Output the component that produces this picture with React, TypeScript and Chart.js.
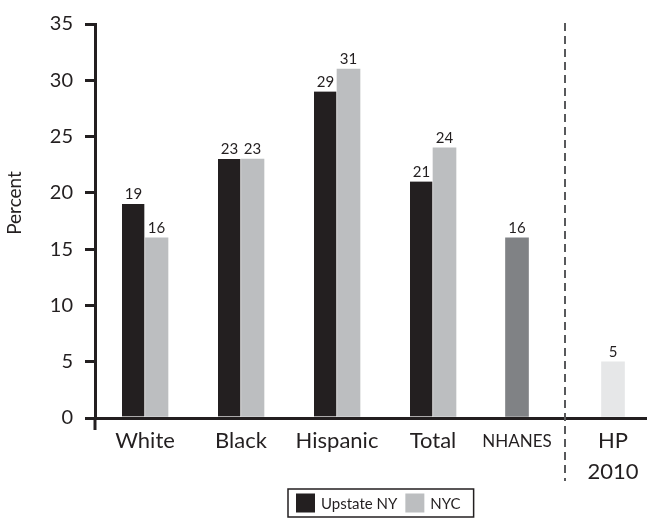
import React, { useEffect, useRef } from "react";
import { Chart, registerables } from "chart.js";

Chart.register(...registerables);

// Categories along the x axis ("HP 2010" wraps onto two lines)
const categories = ["White", "Black", "Hispanic", "Total", "NHANES", "HP 2010"];

// Percent values per group
const upstateNY: (number | null)[] = [19, 23, 29, 21, null, null];
const nyc: (number | null)[] = [16, 23, 31, 24, null, null];
const reference: (number | null)[] = [null, null, null, null, 16, 5];

const seriesLabels = ["Upstate NY", "NYC"];
const yTickValues = [0, 5, 10, 15, 20, 25, 30, 35];

// Layout: slot centre of each category on the x axis (NHANES sits a bit closer to Total)
const SLOT_X = [0, 8, 16, 24, 31, 39];
const X_MIN = -50 / 12;
const X_MAX = X_MIN + 46;
const DIVIDER_X = (SLOT_X[4] + SLOT_X[5]) / 2;

const FONT = "Lato, 'Open Sans', sans-serif";
const INK = "#231f20";
const NYC_GREY = "#bcbec0";
const NHANES_GREY = "#808285";
const HP_GREY = "#e6e7e8";

const toPoints = (vals: (number | null)[]) =>
  vals.map((v, i) => ({ x: SLOT_X[i], y: v }));

const decorPlugin = {
  id: "decor",
  afterDatasetsDraw(chart: any) {
    const ctx: CanvasRenderingContext2D = chart.ctx;
    ctx.save();
    ctx.font = `15px ${FONT}`;
    ctx.fillStyle = INK;
    ctx.textAlign = "center";
    ctx.textBaseline = "bottom";
    chart.data.datasets.forEach((ds: any, di: number) => {
      const meta = chart.getDatasetMeta(di);
      meta.data.forEach((bar: any, i: number) => {
        const v = ds.data[i].y;
        if (v == null) return;
        ctx.fillText(String(v), bar.x, bar.y - 2);
      });
    });
    ctx.restore();
  },
  afterDraw(chart: any) {
    const ctx: CanvasRenderingContext2D = chart.ctx;
    const { chartArea, scales } = chart;
    ctx.save();

    // y axis line runs a little below the origin
    ctx.strokeStyle = INK;
    ctx.lineWidth = 3;
    ctx.beginPath();
    ctx.moveTo(chartArea.left, chartArea.bottom);
    ctx.lineTo(chartArea.left, chartArea.bottom + 12);
    ctx.stroke();

    // dashed divider before the HP 2010 target
    const xd = Math.round(scales.x.getPixelForValue(DIVIDER_X));
    ctx.strokeStyle = "#58595b";
    ctx.lineWidth = 2;
    ctx.setLineDash([8, 5]);
    ctx.beginPath();
    ctx.moveTo(xd, chartArea.top - 1);
    ctx.lineTo(xd, 481);
    ctx.stroke();
    ctx.setLineDash([]);

    // y axis title
    ctx.save();
    ctx.translate(15, 203);
    ctx.rotate(-Math.PI / 2);
    ctx.font = `19px ${FONT}`;
    ctx.fillStyle = INK;
    ctx.textAlign = "center";
    ctx.textBaseline = "middle";
    ctx.fillText("Percent", 0, 0);
    ctx.restore();

    // boxed legend
    ctx.font = `15px ${FONT}`;
    const sw = 19;
    const padL = 8;
    const gapT = 6;
    const gapItem = 8;
    const padR = 13;
    const items = chart.data.datasets.filter((d: any) => d.inLegend);
    const widths = items.map((d: any) => ctx.measureText(d.label).width);
    let total = padL + padR;
    widths.forEach((w: number, i: number) => {
      total += sw + gapT + w + (i < widths.length - 1 ? gapItem : 0);
    });
    const boxTop = 489;
    const boxH = 28;
    const cx = 381;
    let x = Math.round(cx - total / 2);
    ctx.strokeStyle = INK;
    ctx.lineWidth = 1.5;
    ctx.strokeRect(x, boxTop, total, boxH);
    x += padL;
    items.forEach((d: any, i: number) => {
      ctx.fillStyle = d.backgroundColor;
      ctx.fillRect(x, boxTop + 4.5, sw, sw);
      x += sw + gapT;
      ctx.fillStyle = INK;
      ctx.textAlign = "left";
      ctx.textBaseline = "middle";
      ctx.fillText(d.label, x, boxTop + boxH / 2 + 1);
      x += widths[i] + gapItem;
    });

    ctx.restore();
  },
};

export default function App() {
  const canvasRef = useRef<HTMLCanvasElement | null>(null);

  useEffect(() => {
    if (!canvasRef.current) return;
    const chart = new Chart(canvasRef.current, {
      type: "bar",
      data: {
        datasets: [
          {
            label: seriesLabels[0],
            data: toPoints(upstateNY) as any,
            backgroundColor: INK,
            borderColor: "#ffffff",
            borderWidth: { top: 0, right: 1, bottom: 0, left: 0 },
            inLegend: true,
          } as any,
          {
            label: seriesLabels[1],
            data: toPoints(nyc) as any,
            backgroundColor: NYC_GREY,
            borderWidth: 0,
            inLegend: true,
          } as any,
          {
            label: "Reference",
            data: toPoints(reference) as any,
            backgroundColor: [INK, INK, INK, INK, NHANES_GREY, HP_GREY],
            borderWidth: 0,
            inLegend: false,
          } as any,
        ],
      },
      options: {
        responsive: false,
        animation: false,
        devicePixelRatio: 1,
        events: [],
        layout: { padding: { top: 20, right: 0, left: 0, bottom: 0 } },
        datasets: {
          bar: { barThickness: 23, skipNull: true, grouped: true },
        },
        plugins: {
          legend: { display: false },
          tooltip: { enabled: false },
          title: { display: false },
        },
        scales: {
          x: {
            type: "linear",
            min: X_MIN,
            max: X_MAX,
            offset: false,
            grid: { display: false, drawTicks: false },
            border: { display: true, color: INK, width: 3 },
            afterBuildTicks: (scale: any) => {
              scale.ticks = SLOT_X.map((v) => ({ value: v }));
            },
            afterFit: (scale: any) => {
              scale.height = 100;
            },
            ticks: {
              autoSkip: false,
              maxRotation: 0,
              minRotation: 0,
              padding: 8,
              color: INK,
              font: (c: any) =>
                c.index === 4
                  ? { family: FONT, size: 17, lineHeight: 30.8 / 17 }
                  : { family: FONT, size: 22, lineHeight: 1.4 },
              callback: (_v: any, i: number) => {
                const s = categories[i];
                return s.includes(" ") ? s.split(" ") : s;
              },
            },
          },
          y: {
            type: "linear",
            min: 0,
            max: 35,
            afterBuildTicks: (scale: any) => {
              scale.ticks = yTickValues.map((v) => ({ value: v }));
            },
            afterFit: (scale: any) => {
              scale.width = 95;
            },
            grid: {
              display: true,
              drawOnChartArea: false,
              drawTicks: true,
              tickLength: 10,
              lineWidth: 3,
              color: INK,
            },
            border: { display: true, color: INK, width: 3 },
            ticks: {
              padding: 12,
              color: INK,
              font: { family: FONT, size: 20 },
            },
          },
        },
      },
      plugins: [decorPlugin],
    } as any);
    return () => chart.destroy();
  }, []);

  return (
    <div style={{ position: "absolute", left: 0, top: 0, width: 647, height: 518, background: "#fff" }}>
      <canvas ref={canvasRef} width={647} height={518} />
    </div>
  );
}
